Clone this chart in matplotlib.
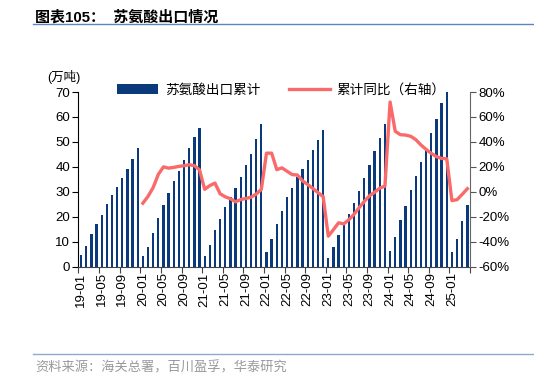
import matplotlib
matplotlib.use("Agg")
import matplotlib.pyplot as plt
from matplotlib.lines import Line2D
from matplotlib.patches import Patch
import numpy as np

plt.rcParams['font.family'] = ['Liberation Sans', 'Noto Sans CJK SC', 'DejaVu Sans']

years = [19, 20, 21, 22, 23, 24, 25]
months_per_year = [12, 12, 12, 12, 12, 12, 4]

# cumulative exports (10k tonnes)
exp_2019 = [4.8, 8.5, 13.2, 17.0, 20.9, 25.0, 28.8, 32.0, 35.6, 39.2, 43.0, 47.7]
exp_2020 = [4.3, 8.1, 13.7, 19.4, 24.8, 29.6, 34.4, 38.5, 42.8, 47.7, 51.9, 55.7]
exp_2021 = [4.3, 8.6, 14.6, 19.0, 23.9, 27.9, 31.6, 36.0, 40.6, 45.2, 51.0, 57.0]
exp_2022 = [5.8, 11.2, 17.1, 22.5, 27.8, 31.6, 35.9, 39.1, 42.8, 46.9, 50.6, 54.8]
exp_2023 = [3.6, 7.9, 12.9, 16.9, 21.2, 25.4, 30.5, 35.6, 40.8, 46.3, 51.7, 57.0]
exp_2024 = [6.2, 11.8, 18.6, 24.4, 30.7, 36.3, 42.0, 47.3, 53.7, 59.3, 65.6, 72.1]
exp_2025 = [5.8, 11.1, 18.3, 24.6]

# cumulative YoY (%), from 2020-01
yoy_2020 = [-9.1, -3.6, 3.5, 14.0, 20.0, 19.0, 19.6, 20.4, 21.0, 21.7, 21.0, 17.6]
yoy_2021 = [2.0, 5.0, 7.0, -1.6, -4.0, -5.5, -8.0, -6.2, -5.3, -4.3, -1.8, 2.0]
yoy_2022 = [31.0, 31.0, 17.8, 19.2, 16.5, 13.8, 13.5, 8.8, 5.9, 2.7, -0.6, -3.8]
yoy_2023 = [-35.5, -30.3, -24.8, -25.7, -22.3, -18.0, -12.6, -7.6, -3.2, -0.3, 3.0, 4.6]
yoy_2024 = [72.0, 48.5, 45.8, 45.5, 44.5, 41.8, 37.5, 34.0, 30.8, 28.2, 26.8, 26.5]
yoy_2025 = [-7.0, -6.3, -2.0, 2.5]

exports = exp_2019 + exp_2020 + exp_2021 + exp_2022 + exp_2023 + exp_2024 + exp_2025
yoy = yoy_2020 + yoy_2021 + yoy_2022 + yoy_2023 + yoy_2024 + yoy_2025
labels = [f"{y:02d}-{m:02d}" for y, n in zip(years, months_per_year) for m in range(1, n + 1)]

bar_color = '#0A3A7C'
line_color = '#F96B6B'

fig = plt.figure(figsize=(5.34, 3.78), dpi=100)
ax = fig.add_axes([0.147, 0.2944, 0.733, 0.4622])
ax2 = ax.twinx()

x = np.arange(len(exports))
ax.bar(x, exports, width=0.45, color=bar_color, zorder=2)
x_line = np.arange(len(exports) - len(yoy), len(exports))
ax2.plot(x_line, yoy, color=line_color, lw=2.4, solid_joinstyle='round', zorder=3)

ax.set_xlim(-0.5, len(exports) - 0.5)
ax.set_ylim(0, 70)
ax.set_yticks(range(0, 71, 10))
ax2.set_ylim(-60, 80)
ax2.set_yticks(range(-60, 81, 20))
ax2.set_yticklabels([f"{v}%" for v in range(-60, 81, 20)])

# category ticks at boundaries, labels at category centers
ax.set_xticks(np.arange(-0.5, len(exports), 4))
ax.set_xticklabels([])
ax.set_xticks(np.arange(0, len(exports), 4), minor=True)
ax.set_xticklabels([labels[i] for i in range(0, len(exports), 4)], minor=True, rotation=90)
ax.tick_params(axis='x', which='minor', length=0, pad=4, labelsize=9.5, colors='#000000')
ax.tick_params(axis='x', which='major', length=4, direction='out', color='#444444')
ax.tick_params(axis='y', length=4, direction='out', labelsize=9.5, pad=2)
ax2.tick_params(axis='y', length=4, direction='out', labelsize=9.5, pad=2, color='#555555')

for a in (ax, ax2):
    a.spines['top'].set_visible(False)
ax2.spines['left'].set_visible(False)
ax2.spines['bottom'].set_visible(False)
ax.spines['right'].set_visible(False)
ax.spines['left'].set_color('#000000')
ax.spines['bottom'].set_color('#444444')
ax2.spines['right'].set_color('#666666')

# unit label
fig.text(0.089, 0.795, '(万吨)', fontsize=9, family=['Liberation Sans', 'Noto Sans CJK SC'], ha='left', va='center')

# legend
handles = [Patch(facecolor=bar_color, edgecolor='none'),
           Line2D([0], [0], color=line_color, lw=2.4)]
fig.legend(handles, ['苏氨酸出口累计', '累计同比（右轴）'], loc='center',
           bbox_to_anchor=(0.527, 0.763), ncol=2, frameon=False,
           handlelength=3.0, handletextpad=0.5, columnspacing=2.1,
           prop={'family': ['Noto Sans CJK SC'], 'size': 9.8})

# title
fig.text(0.066, 0.955, '图表105：  苏氨酸出口情况', fontsize=10.8, fontweight='bold',
         family=['Liberation Sans', 'Noto Sans CJK SC'], ha='left', va='center')
fig.add_artist(Line2D([0.062, 1.0], [0.936, 0.936], color='#5B86C0', lw=1.0))

# footer
fig.add_artist(Line2D([0.062, 1.0], [0.063, 0.063], color='#8FA9D0', lw=1.0))
fig.text(0.066, 0.026, '资料来源：海关总署，百川盈孚，华泰研究', fontsize=9.5, color='#9A9A9A',
         family=['Noto Sans CJK SC'], ha='left', va='center')

fig.savefig('out.png', dpi=100)
